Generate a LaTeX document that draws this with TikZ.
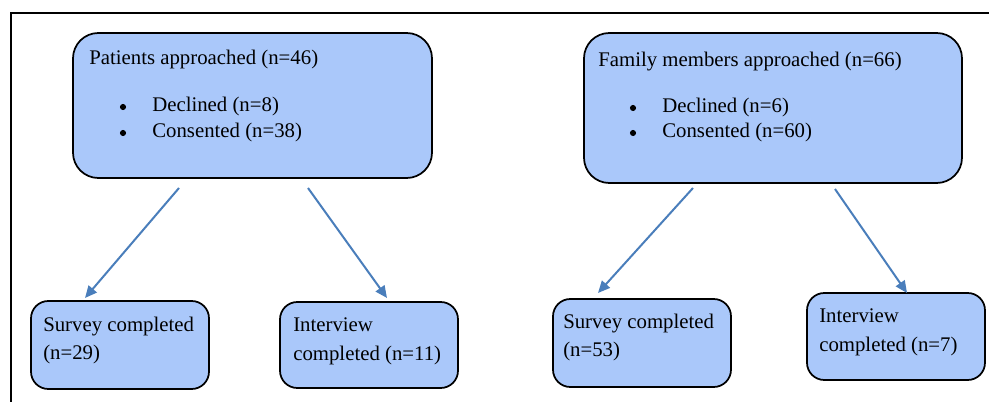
\documentclass[tikz,border=0pt]{standalone}
\usepackage{fontspec}
\setmainfont{Liberation Serif}
\usetikzlibrary{arrows.meta}

\definecolor{boxblue}{RGB}{170,200,250}
\definecolor{arrowblue}{RGB}{74,126,187}

\tikzset{
  box/.style={draw=black, line width=1.3pt, fill=boxblue, rounded corners=#1, inner sep=0pt},
  box/.default=13pt,
  txt/.style={anchor=base west, inner sep=0pt, font=\fontsize{15.6pt}{18pt}\selectfont},
  dot/.style={circle, fill=black, inner sep=0pt, minimum size=4.6pt},
  flow/.style={draw=arrowblue, line width=1.5pt, -{Triangle[length=9pt,width=8pt]}}
}

\begin{document}
\begin{tikzpicture}[x=0.75pt, y=-0.75pt]
    \useasboundingbox (0,0) rectangle (989,402);
    \draw[line width=1.6pt] (11,402) -- (11,13) -- (989,13);

    % top boxes
    \node[box=19pt, minimum width=269.25pt, minimum height=108.75pt] (patients) at (252.5,105.5) {};
    \node[box=19pt, minimum width=283.5pt, minimum height=112.5pt] (family) at (773,108) {};

    % bottom boxes
    \node[box, minimum width=133.5pt, minimum height=66pt] (psurvey) at (120,345) {};
    \node[box, minimum width=133.5pt, minimum height=64.5pt] (pinterview) at (369,345) {};
    \node[box, minimum width=133.5pt, minimum height=66pt] (fsurvey) at (642,343) {};
    \node[box, minimum width=133.5pt, minimum height=65.25pt] (finterview) at (896,336.5) {};

    % texts
    \node[txt] (ptitle) at (89,65) {Patients approached (n=46)};
    \node[dot] (pdot1) at (123,107) {};
    \node[txt] (pdecl) at (152,112) {Declined (n=8)};
    \node[dot] (pdot2) at (123,133) {};
    \node[txt] (pcons) at (152,138) {Consented (n=38)};

    \node[txt] (ftitle) at (598,67) {Family members approached (n=66)};
    \node[dot] (fdot1) at (633,108) {};
    \node[txt] (fdecl) at (662,113) {Declined (n=6)};
    \node[dot] (fdot2) at (633,133) {};
    \node[txt] (fcons) at (662,138) {Consented (n=60)};

    \node[txt] (ps1) at (43,332) {Survey completed};
    \node[txt] (ps2) at (43,360) {(n=29)};
    \node[txt] (pi1) at (293,332) {Interview};
    \node[txt] (pi2) at (293,361) {completed (n=11)};
    \node[txt] (fs1) at (563,329) {Survey completed};
    \node[txt] (fs2) at (563,357) {(n=53)};
    \node[txt] (fi1) at (819,323) {Interview};
    \node[txt] (fi2) at (819,352) {completed (n=7)};

    % arrows
    \coordinate (pa) at (179,188);
    \coordinate (pb) at (308,188);
    \coordinate (fa) at (693,188);
    \coordinate (fb) at (835,189);
    \coordinate (psin) at (85,298);
    \coordinate (piin) at (387,298);
    \coordinate (fsin) at (598,293);
    \coordinate (fiin) at (907,293);
    \draw[flow] (pa) -- (psin);
    \draw[flow] (pb) -- (piin);
    \draw[flow] (fa) -- (fsin);
    \draw[flow] (fb) -- (fiin);
\end{tikzpicture}
\end{document}
